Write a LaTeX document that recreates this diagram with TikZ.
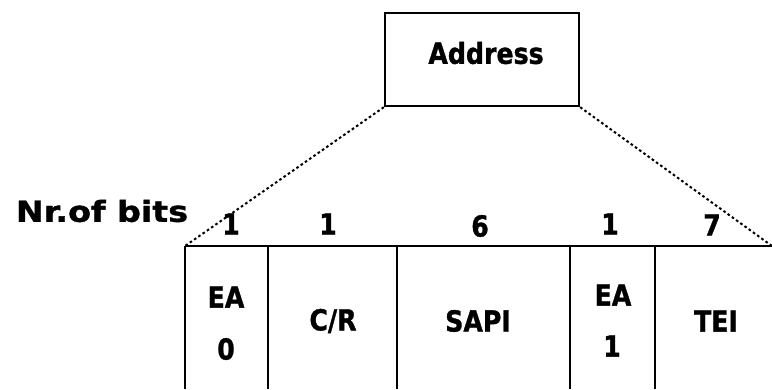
\documentclass[tikz,border=0pt]{standalone}
\usepackage{fontspec}
\setmainfont{DejaVu Sans}[BoldFeatures={FakeBold=1.2}]
\begin{document}
\begin{tikzpicture}[x=1pt,y=-1pt,
  lbl/.style={font=\fontsize{29}{31}\selectfont\bfseries, inner sep=0pt, xscale=0.87},
  rule/.style={line width=2.4pt},
  zoomline/.style={line width=2pt, dash pattern=on 2.6pt off 2.6pt},
  boxed/.style={draw, line width=2.4pt, minimum width=194pt, minimum height=93pt, inner sep=0pt}]
  \useasboundingbox (0,0) rectangle (772,389);

  % the address field, expanded below
  \node[boxed] (addr) at (482,59.5) {};
  \node[lbl] (addrtxt) at (486,53) {Address};

  % table outline
  \coordinate (tl) at (185,246);
  \coordinate (tr) at (772,246);
  \draw[rule] (tl) -- (tr);
  \foreach \x [count=\i] in {185,268,397,570,655} {
    \coordinate (top\i) at (\x,246);
    \coordinate (bot\i) at (\x,389);
    \draw[rule] (top\i) -- (bot\i);
  }

  % zoom lines from the address box to the table
  \draw[zoomline] (addr.south west) -- (tl);
  \draw[zoomline] (addr.south east) -- (tr);

  % bit counts
  \node[lbl, xscale=1.32] (nbits) at (102,211) {Nr.of bits};
  \node[lbl] (n1) at (231,224) {1};
  \node[lbl] (n2) at (328,224) {1};
  \node[lbl] (n3) at (480,226) {6};
  \node[lbl] (n4) at (610,224) {1};
  \node[lbl] (n5) at (712,225) {7};

  % field names
  \node[lbl] (ea0a) at (226,297) {EA};
  \node[lbl] (ea0b) at (226,349) {0};
  \node[lbl] (cr) at (333,321) {C/R};
  \node[lbl] (sapi) at (478,321) {SAPI};
  \node[lbl] (ea1a) at (613,295) {EA};
  \node[lbl] (ea1b) at (612,346) {1};
  \node[lbl] (tei) at (716,321) {TEI};
\end{tikzpicture}
\end{document}
